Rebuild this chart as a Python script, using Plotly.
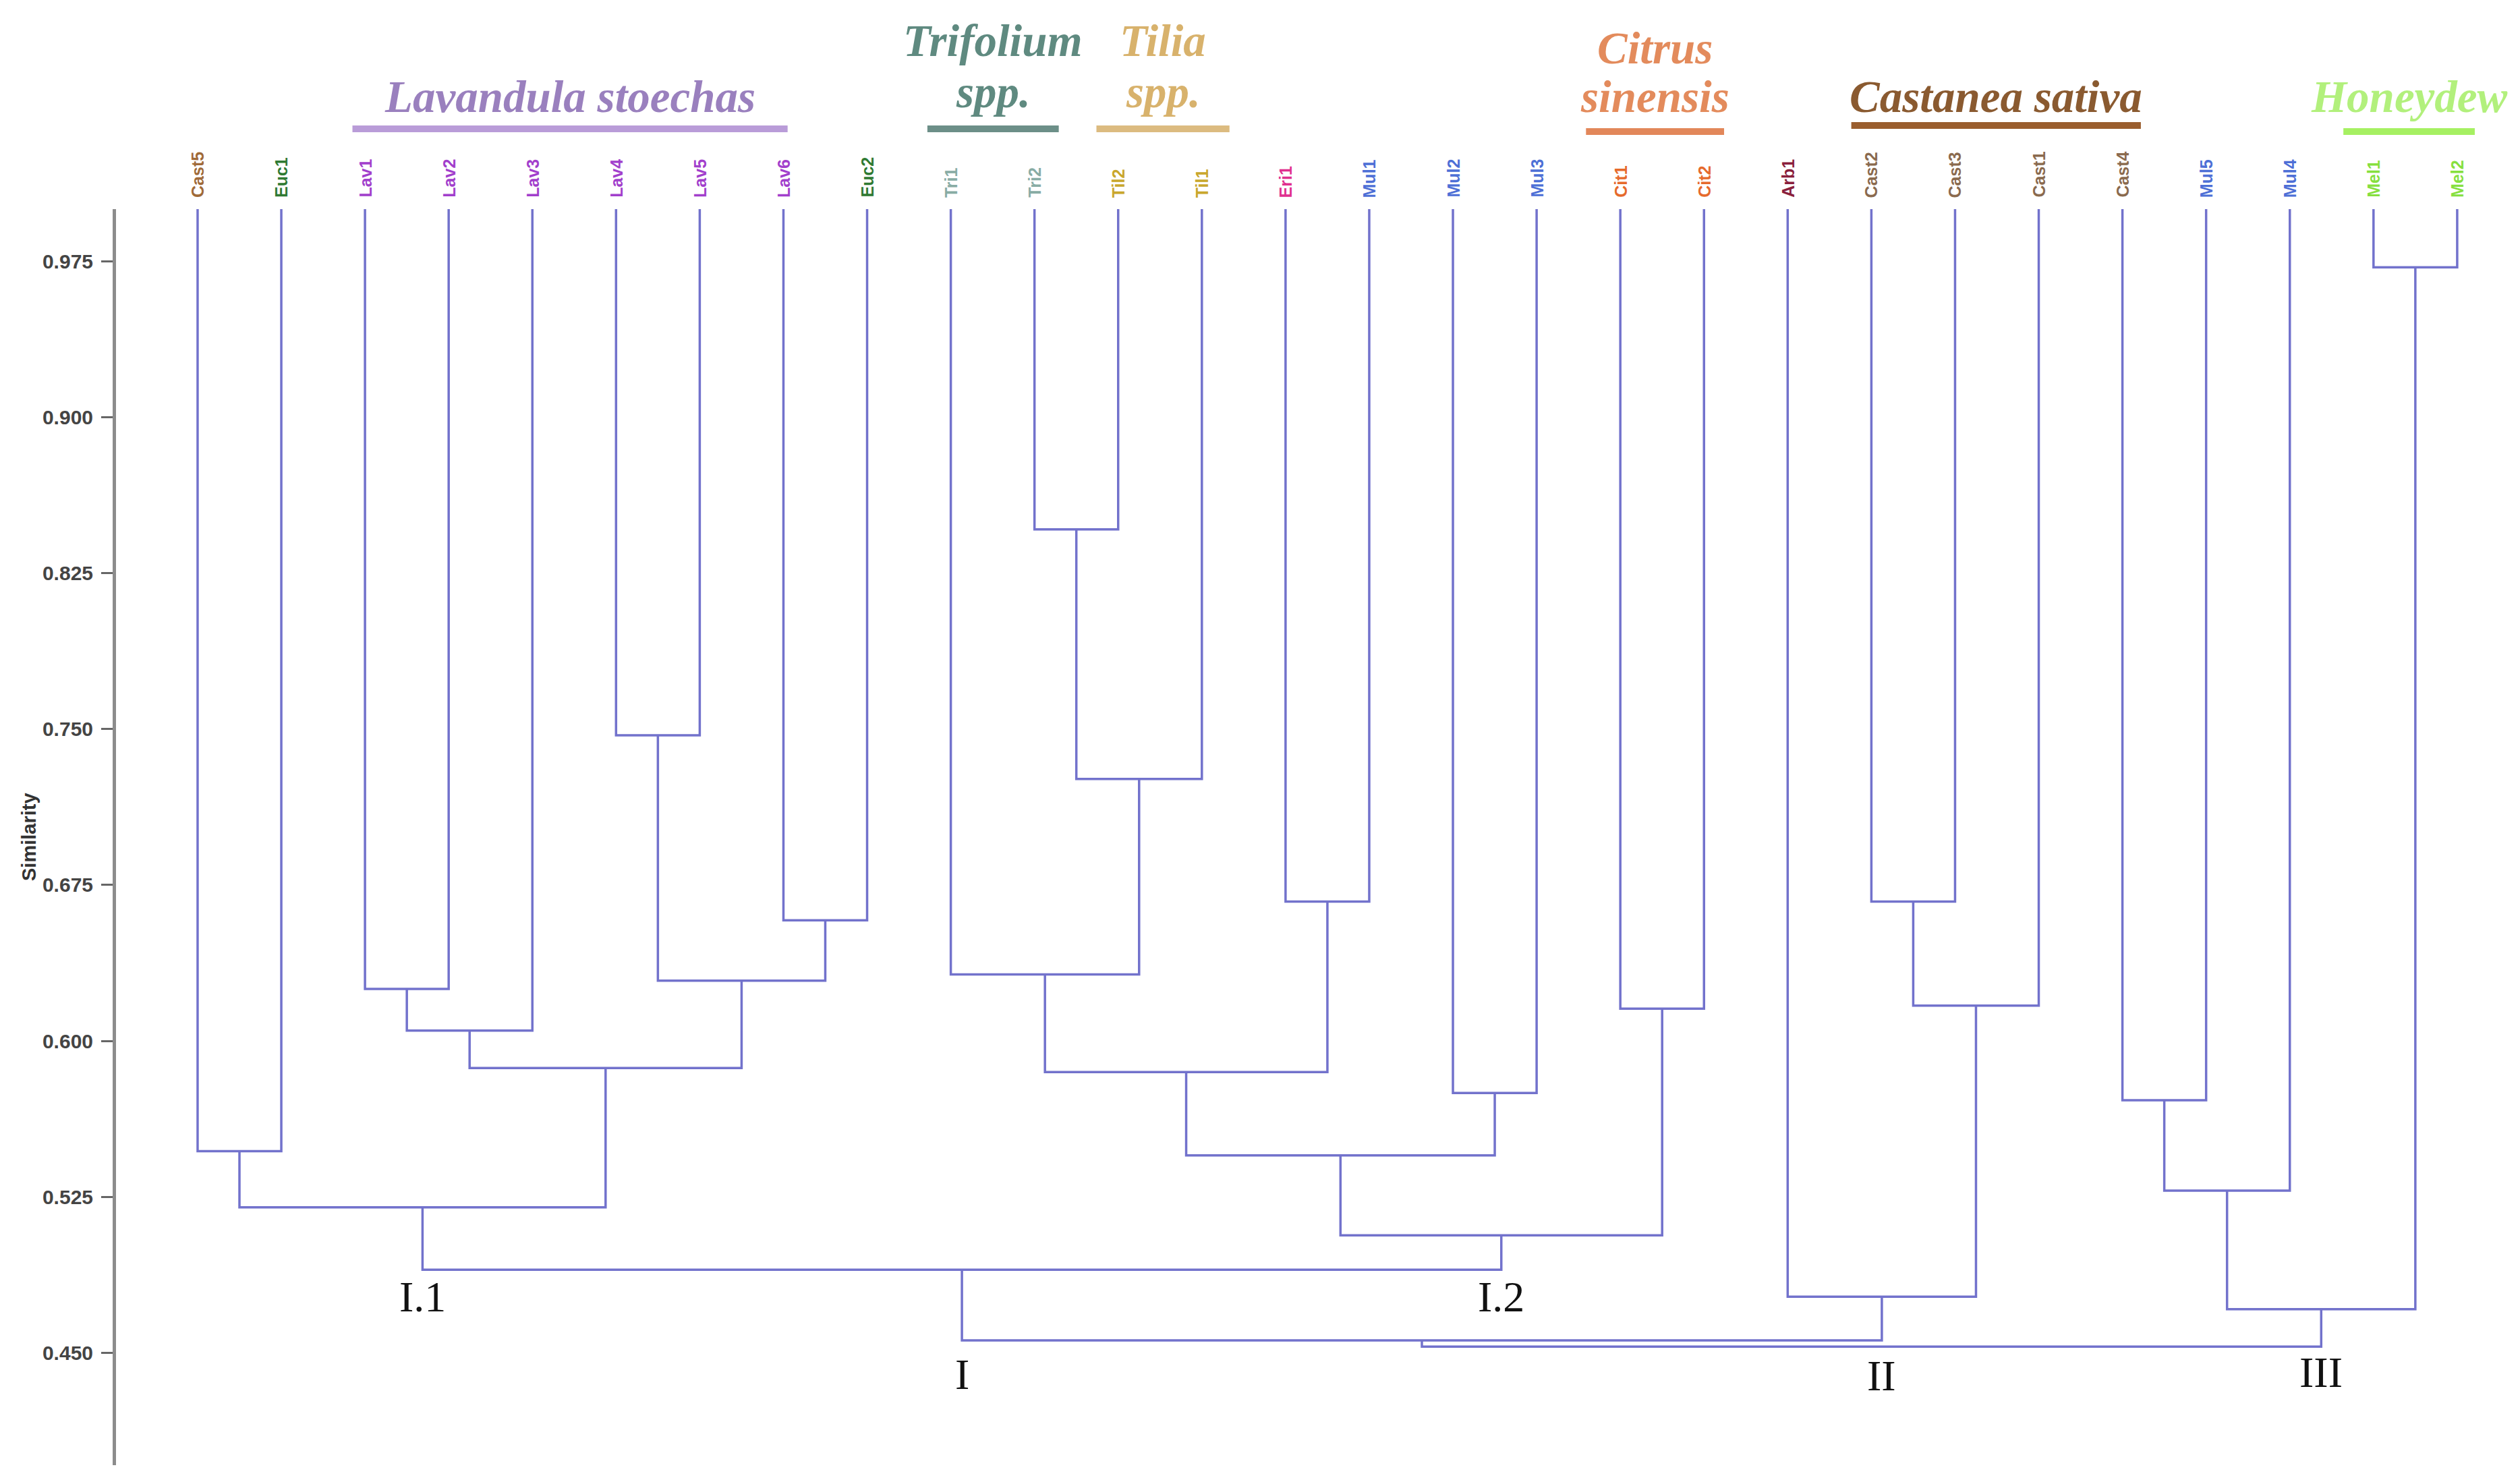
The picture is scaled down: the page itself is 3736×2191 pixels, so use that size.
import plotly.graph_objects as go

# ---------------- data ----------------
leaves = ["Cast5", "Euc1", "Lav1", "Lav2", "Lav3", "Lav4", "Lav5", "Lav6", "Euc2",
          "Tri1", "Tri2", "Til2", "Til1", "Eri1", "Mul1", "Mul2", "Mul3",
          "Cit1", "Cit2", "Arb1", "Cast2", "Cast3", "Cast1", "Cast4",
          "Mul5", "Mul4", "Mel1", "Mel2"]

# merges: (child a, child b, similarity) ; internal nodes are named n0, n1, ...
merges = [
    ("Cast5", "Euc1", 0.547),   # n0
    ("Lav1", "Lav2", 0.625),    # n1
    ("n1", "Lav3", 0.605),      # n2
    ("Lav4", "Lav5", 0.747),    # n3
    ("Lav6", "Euc2", 0.658),    # n4
    ("n3", "n4", 0.629),        # n5
    ("n2", "n5", 0.587),        # n6
    ("n0", "n6", 0.520),        # n7  (I.1)
    ("Tri2", "Til2", 0.846),    # n8
    ("n8", "Til1", 0.726),      # n9
    ("Tri1", "n9", 0.632),      # n10
    ("Eri1", "Mul1", 0.667),    # n11
    ("n10", "n11", 0.585),      # n12
    ("Mul2", "Mul3", 0.575),    # n13
    ("n12", "n13", 0.545),      # n14
    ("Cit1", "Cit2", 0.6155),   # n15
    ("n14", "n15", 0.5065),     # n16 (I.2)
    ("n7", "n16", 0.490),       # n17 (I)
    ("Cast2", "Cast3", 0.667),  # n18
    ("n18", "Cast1", 0.617),    # n19
    ("Arb1", "n19", 0.477),     # n20 (II)
    ("Cast4", "Mul5", 0.5715),  # n21
    ("n21", "Mul4", 0.528),     # n22
    ("Mel1", "Mel2", 0.972),    # n23
    ("n22", "n23", 0.471),      # n24 (III)
    ("n17", "n20", 0.456),      # n25
    ("n25", "n24", 0.453),      # n26
]

leaf_similarity = 1.0

tick_values = [0.450, 0.525, 0.600, 0.675, 0.750, 0.825, 0.900, 0.975]
tick_labels = ["0.450", "0.525", "0.600", "0.675", "0.750", "0.825", "0.900", "0.975"]

# cluster labels: (text, node)
cluster_labels = [("I.1", "n7"), ("I.2", "n16"), ("I", "n17"), ("II", "n20"), ("III", "n24")]

# taxon groups: (title lines, first leaf, last leaf)
groups = [
    (["Lavandula stoechas"], "Lav1", "Lav6"),
    (["Trifolium", "spp."], "Tri1", "Tri2"),
    (["Tilia", "spp."], "Til2", "Til1"),
    (["Citrus", "sinensis"], "Cit1", "Cit2"),
    (["Castanea sativa"], "Cast2", "Cast4"),
    (["Honeydew"], "Mel1", "Mel2"),
]

# ---------------- styles ----------------
label_colors = {
    "Cast5": "#a06a38", "Euc": "#2f7a32", "Lav": "#a23fcc", "Tri": "#88aca4",
    "Til": "#c9a72c", "Eri": "#e0308f", "Mul": "#4d6fd6", "Cit": "#e66a2c",
    "Arb": "#8a1f3c", "Cast": "#8a6a4e", "Mel": "#86e03e",
}
# pad: bar extent around first/last leaf; title_px: line centres, bar_px: bar (page pixels)
group_styles = [
    dict(text="#9a80be", bar="#b99cd8", pad=(-0.15, 0.05), title_px=[143], bar_px=191),
    dict(text="#5f8a80", bar="#6c8f88", pad=(-0.28, 0.29), title_px=[60, 136], bar_px=191),
    dict(text="#d8b26c", bar="#dcbb80", pad=(-0.26, 0.33), title_px=[60, 136], bar_px=191),
    dict(text="#e38b5c", bar="#e2875a", pad=(-0.41, 0.24), title_px=[71, 143], bar_px=195),
    dict(text="#8a5a30", bar="#9a5e2e", pad=(-0.24, 0.22), title_px=[143], bar_px=186),
    dict(text="#b2f07c", bar="#a6f062", pad=(-0.36, 0.21), title_px=[143], bar_px=195),
]
cluster_label_sim = {"I.1": 0.477, "I.2": 0.477, "I": 0.4395, "II": 0.439, "III": 0.4405}

OFF = 8                      # page body margin
W, H = 3736 - 2 * OFF, 2191 - 2 * OFF
ML, MT = 172 - OFF, 310 - OFF
MR = 0
MB = H - (2172 - OFF)
PH = H - MT - MB
XR = [-0.975, 27.686]
YR = [0.396, 1.0]
LINE_COLOR = "#7272cc"


def color_for(name):
    if name in label_colors:
        return label_colors[name]
    return label_colors[name.rstrip("0123456789")]


def paper_x(xd):
    return (xd - XR[0]) / (XR[1] - XR[0])


def paper_y(page_px):
    return 1 + (MT - (page_px - OFF)) / PH


# ---------------- dendrogram geometry ----------------
pos = {name: (i, leaf_similarity) for i, name in enumerate(leaves)}
xs, ys = [], []
for k, (a, b, h) in enumerate(merges):
    xa, ya = pos[a]
    xb, yb = pos[b]
    xs += [xa, xa, xb, xb, None]
    ys += [ya, h, h, yb, None]
    pos["n%d" % k] = ((xa + xb) / 2.0, h)

fig = go.Figure()
fig.add_trace(go.Scatter(x=xs, y=ys, mode="lines",
                         line=dict(color=LINE_COLOR, width=3.5),
                         hoverinfo="skip", showlegend=False))

annotations = []
# leaf labels
for i, name in enumerate(leaves):
    annotations.append(dict(
        x=i, y=leaf_similarity, xref="x", yref="y", text=name, showarrow=False,
        textangle=-90, xanchor="center", yanchor="bottom", yshift=15,
        font=dict(family="Liberation Sans", size=25, color=color_for(name), weight="bold")))

# cluster labels
for text, node in cluster_labels:
    annotations.append(dict(
        x=pos[node][0], y=cluster_label_sim[text], xref="x", yref="y", text=text,
        showarrow=False, xanchor="center", yanchor="middle",
        font=dict(family="Liberation Serif", size=64, color="#111111")))

shapes = []
for (lines, first, last), st in zip(groups, group_styles):
    x0 = leaves.index(first) + st["pad"][0]
    x1 = leaves.index(last) + st["pad"][1]
    xc = (x0 + x1) / 2.0
    shapes.append(dict(type="line", xref="paper", yref="paper",
                       x0=paper_x(x0), x1=paper_x(x1),
                       y0=paper_y(st["bar_px"]), y1=paper_y(st["bar_px"]),
                       line=dict(color=st["bar"], width=10)))
    for line_text, py in zip(lines, st["title_px"]):
        annotations.append(dict(
            x=xc, y=paper_y(py), xref="x", yref="paper", text=line_text,
            showarrow=False, xanchor="center", yanchor="middle",
            font=dict(family="Liberation Serif", size=67, color=st["text"],
                      weight="bold", style="italic")))

# y-axis title
annotations.append(dict(
    x=0, y=0.5, xref="paper", yref="paper", xshift=-129, text="Similarity",
    showarrow=False, textangle=-90, xanchor="center", yanchor="middle",
    font=dict(family="Liberation Sans", size=29, color="#333333", weight="bold")))

fig.update_layout(
    width=W, height=H,
    margin=dict(l=ML, r=MR, t=MT, b=MB),
    paper_bgcolor="white", plot_bgcolor="white",
    showlegend=False,
    annotations=annotations,
    shapes=shapes,
    xaxis=dict(range=XR, visible=False, showgrid=False, zeroline=False),
    yaxis=dict(range=YR, tickvals=tick_values, ticktext=tick_labels,
               showline=True, linecolor="#8c8c8c", linewidth=5,
               ticks="outside", ticklen=17, tickwidth=3, tickcolor="#666666",
               ticklabelstandoff=6,
               showgrid=False, zeroline=False,
               tickfont=dict(family="Liberation Sans", size=30, color="#444444", weight="bold")),
)

fig.write_html("out.html")
